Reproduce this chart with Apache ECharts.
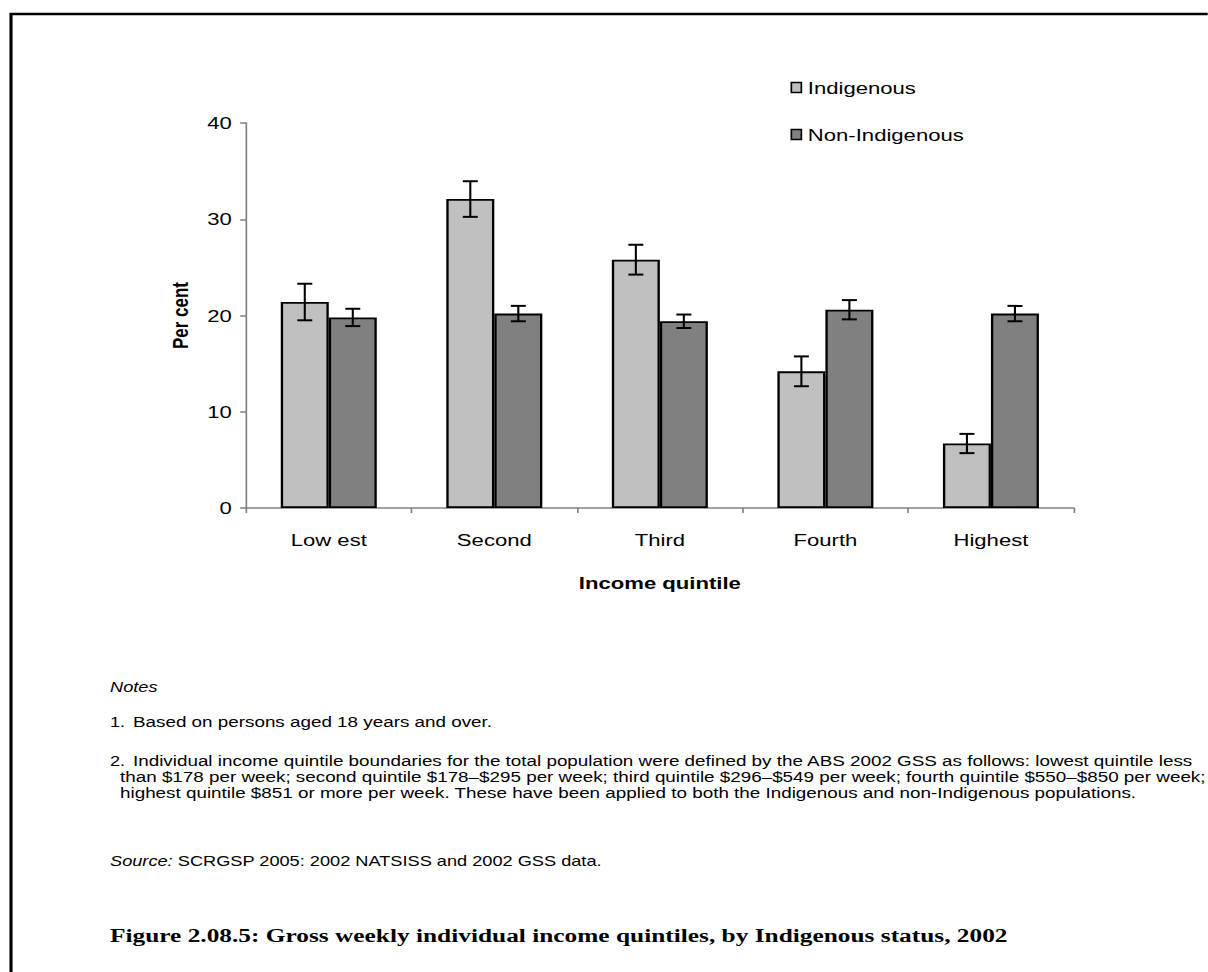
<!DOCTYPE html>
<html>
<head>
<meta charset="utf-8">
<script src="https://cdn.jsdelivr.net/npm/echarts@6/dist/echarts.min.js"></script>
<style>
html,body{margin:0;padding:0;background:#fff;overflow:hidden;}
#wrap{width:1208px;height:972px;overflow:hidden;}
#chart{width:929.23px;height:972px;transform:scaleX(1.3);transform-origin:0 0;}
</style>
</head>
<body>
<div id="wrap"><div id="chart"></div></div>
<script>
const categories = ['Low est', 'Second', 'Third', 'Fourth', 'Highest'];
const indigenous = [21.4, 32.1, 25.8, 14.2, 6.7];
const indigenousErr = [1.9, 1.85, 1.55, 1.55, 1.0];
const nonIndigenous = [19.8, 20.2, 19.4, 20.6, 20.2];
const nonIndigenousErr = [0.9, 0.8, 0.7, 1.0, 0.8];
const yTicks = [0, 10, 20, 30, 40];

const SX = 1.3;           // horizontal stretch of the whole figure
const px = v => v / SX;   // convert target-pixel x to pre-stretch x
const CAT_GAP = 0.42;
const FONT = '"Liberation Sans", Arial, sans-serif';

function errRender(side) {
  return function (params, api) {
    const idx = api.value(0);
    const lo = api.value(1);
    const hi = api.value(2);
    const band = api.size([1, 0])[0];
    const barW = band * (1 - CAT_GAP) / 2;
    const c = api.coord([idx, lo]);
    const cHi = api.coord([idx, hi]);
    const x = c[0] + side * barW / 2;
    const cap = px(7.5);
    const stV = { stroke: '#000', lineWidth: 1.6 };
    const stH = { stroke: '#000', lineWidth: 2 };
    return {
      type: 'group',
      children: [
        { type: 'line', shape: { x1: x, y1: c[1], x2: x, y2: cHi[1] }, style: stV },
        { type: 'line', shape: { x1: x - cap, y1: c[1], x2: x + cap, y2: c[1] }, style: stH },
        { type: 'line', shape: { x1: x - cap, y1: cHi[1], x2: x + cap, y2: cHi[1] }, style: stH }
      ]
    };
  };
}

const indErrData = indigenous.map((v, i) => [i, v - indigenousErr[i], v + indigenousErr[i]]);
const nonErrData = nonIndigenous.map((v, i) => [i, v - nonIndigenousErr[i], v + nonIndigenousErr[i]]);

const chart = echarts.init(document.getElementById('chart'), null, { renderer: 'svg' });
chart.setOption({
  backgroundColor: '#fff',
  animation: false,
  textStyle: { fontFamily: FONT },
  grid: { left: px(246), right: px(134), top: 123, bottom: 464 },
  legend: {
    orient: 'vertical',
    left: px(784),
    top: 74,
    itemWidth: px(10),
    itemHeight: 10,
    itemGap: 30,
    icon: 'rect',
    textStyle: { fontSize: 17, color: '#000', fontFamily: FONT, padding: [0, 0, 0, 0] },
    data: [
      { name: 'Indigenous', itemStyle: { color: '#C0C0C0', borderColor: '#000', borderWidth: 1.3 } },
      { name: 'Non-Indigenous', itemStyle: { color: '#808080', borderColor: '#000', borderWidth: 1.3 } }
    ]
  },
  xAxis: {
    type: 'category',
    data: categories,
    name: 'Income quintile',
    nameLocation: 'middle',
    nameGap: 66,
    nameTextStyle: { fontSize: 17, fontWeight: 'bold', color: '#000', fontFamily: FONT },
    axisLine: { lineStyle: { color: '#808080', width: 1.5 } },
    axisTick: { show: true, length: 5, lineStyle: { color: '#808080', width: 1.3 } },
    axisLabel: { fontSize: 17, color: '#000', margin: 23, fontFamily: FONT }
  },
  yAxis: {
    type: 'value',
    min: yTicks[0],
    max: yTicks[yTicks.length - 1],
    interval: 10,
    name: 'Per cent',
    nameLocation: 'middle',
    nameGap: 42,
    nameRotate: 90,
    nameTextStyle: { fontSize: 17, fontWeight: 'bold', color: '#000', fontFamily: FONT },
    axisLine: { show: true, lineStyle: { color: '#808080', width: 1.3 } },
    axisTick: { show: true, length: 4.5, lineStyle: { color: '#808080', width: 1.5 } },
    axisLabel: { fontSize: 17, color: '#000', margin: 11, fontFamily: FONT },
    splitLine: { show: false }
  },
  series: [
    {
      name: 'Indigenous',
      type: 'bar',
      data: indigenous,
      barGap: '0%',
      barCategoryGap: (CAT_GAP * 100) + '%',
      itemStyle: { color: '#C0C0C0', borderColor: '#000', borderWidth: 1.8 }
    },
    {
      name: 'Non-Indigenous',
      type: 'bar',
      data: nonIndigenous,
      barGap: '0%',
      barCategoryGap: (CAT_GAP * 100) + '%',
      itemStyle: { color: '#808080', borderColor: '#000', borderWidth: 1.8 }
    },
    {
      name: 'IndErr',
      type: 'custom',
      renderItem: errRender(-1),
      data: indErrData,
      encode: { x: 0, y: [1, 2] },
      z: 10
    },
    {
      name: 'NonErr',
      type: 'custom',
      renderItem: errRender(1),
      data: nonErrData,
      encode: { x: 0, y: [1, 2] },
      z: 10
    }
  ],
  graphic: [
    {
      type: 'rect',
      shape: { x: px(11), y: 14, width: 1000, height: 1000 },
      style: { fill: 'none', stroke: '#000', lineWidth: 2.4 },
      silent: true
    },
    {
      type: 'text', left: px(110), top: 680,
      style: { text: 'Notes', font: 'italic 14px ' + FONT, fill: '#000' }
    },
    {
      type: 'text', left: px(110), top: 715,
      style: { text: '1.', font: '14px ' + FONT, fill: '#000' }
    },
    {
      type: 'text', left: px(133), top: 715,
      style: { text: 'Based on persons aged 18 years and over.', font: '14.5px ' + FONT, fill: '#000' }
    },
    {
      type: 'text', left: px(110), top: 754,
      style: { text: '2.', font: '14px ' + FONT, fill: '#000' }
    },
    {
      type: 'text', left: px(133), top: 754,
      style: { text: 'Individual income quintile boundaries for the total population were defined by the ABS 2002 GSS as follows: lowest quintile less', font: '14.5px ' + FONT, fill: '#000' }
    },
    {
      type: 'text', left: px(120), top: 770,
      style: { text: 'than $178 per week; second quintile $178–$295 per week; third quintile $296–$549 per week; fourth quintile $550–$850 per week;', font: '14.5px ' + FONT, fill: '#000' }
    },
    {
      type: 'text', left: px(120), top: 786,
      style: { text: 'highest quintile $851 or more per week. These have been applied to both the Indigenous and non-Indigenous populations.', font: '14.5px ' + FONT, fill: '#000' }
    },
    {
      type: 'text', left: px(110), top: 854,
      style: {
        text: '{i|Source:} SCRGSP 2005: 2002 NATSISS and 2002 GSS data.',
        font: '14px ' + FONT, fill: '#000',
        rich: { i: { fontStyle: 'italic', fontSize: 14, fontFamily: FONT } }
      }
    },
    {
      type: 'text', left: px(110), top: 926,
      style: { text: 'Figure 2.08.5: Gross weekly individual income quintiles, by Indigenous status, 2002', font: 'bold 19.5px "Liberation Serif", "DejaVu Serif", serif', fill: '#000' }
    }
  ]
});
</script>
</body>
</html>
